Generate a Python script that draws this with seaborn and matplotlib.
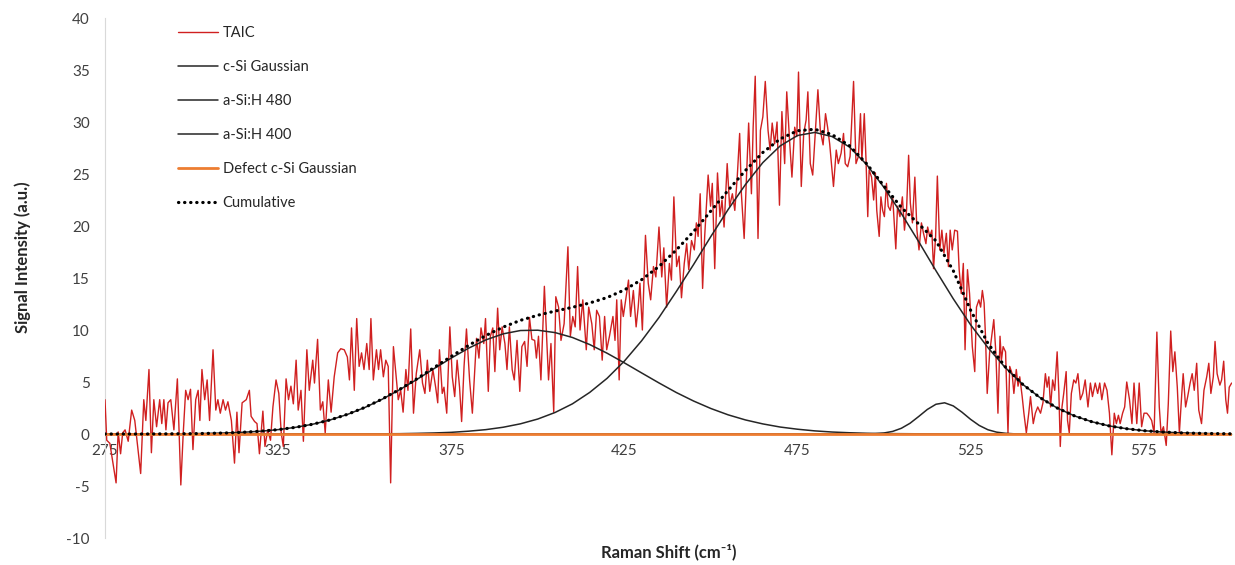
import numpy as np
import pandas as pd
import matplotlib.pyplot as plt
import seaborn as sns

sns.set_style('white')
plt.rcParams['font.family'] = ['Lato', 'DejaVu Sans']
plt.rcParams['axes.unicode_minus'] = False

taic_x = [
    275.0, 275.5, 276.4, 278.2, 278.8, 279.5, 280.1, 280.8, 281.7, 282.7, 283.6, 285.3, 286.2, 286.8,
    287.7, 288.4, 289.1, 289.9, 290.8, 291.4, 292.0, 292.6, 293.2, 294.0, 294.9, 295.9, 296.9, 297.6,
    298.3, 299.0, 299.7, 300.4, 301.2, 301.9, 302.4, 303.0, 303.8, 304.5, 305.2, 306.2, 307.0, 307.6,
    308.3, 309.1, 309.8, 310.5, 311.5, 312.4, 313.1, 313.7, 314.6, 315.8, 316.7,
    317.2, 318.2, 318.9, 319.6, 320.6, 321.2, 322.0, 322.8, 323.5, 324.4, 325.2, 325.9, 326.5, 327.3,
    328.0, 328.7, 329.4, 330.2, 330.8, 331.6, 332.3, 333.3, 334.0, 335.0, 335.5, 336.4, 337.2, 337.9,
    338.6, 339.5, 340.3, 341.2, 342.2, 343.1, 344.1, 345.0, 345.6, 346.2, 347.0, 347.7, 348.4, 349.1,
    349.8, 350.6, 351.3, 351.8, 352.5, 353.4, 354.0, 354.6, 355.4, 356.1, 356.8, 357.5, 358.3,
    359.7, 360.4, 361.1, 361.9, 362.5, 363.3, 364.1, 364.9, 365.9, 366.7, 367.4, 368.1, 368.8, 369.7,
    370.5, 371.1, 371.6, 372.4, 372.9, 373.7, 374.6, 375.3, 376.0, 376.7, 377.4, 378.0, 378.7, 379.4,
    380.3, 381.1, 381.8, 382.3, 383.0, 383.6, 384.4, 384.9, 385.7, 386.3, 387.0, 387.6, 388.4, 389.0,
    389.7, 390.5, 391.1, 391.8, 392.6, 393.2, 394.0, 394.8, 395.4, 396.2, 396.9, 397.6, 398.3, 399.1,
    399.6,
    400.2, 400.9, 401.9, 402.7, 403.1, 403.8, 404.6, 405.2, 406.0, 406.7, 407.6, 408.7, 409.4, 410.1,
    410.8, 411.5, 412.2, 413.0, 414.0, 414.7, 415.6, 416.3, 417.0, 417.8, 418.6, 419.3, 419.9, 420.7,
    421.7, 422.3, 422.8, 423.5, 424.1, 424.7, 425.5, 426.2, 426.8, 427.6, 428.4, 429.0, 429.5, 430.2,
    431.1, 431.9, 432.6, 433.4, 434.1, 435.0, 435.8, 436.4, 437.2, 438.0, 438.6, 439.3, 440.1, 440.8,
    441.5,
    442.3, 443.0, 443.6, 444.4, 445.2, 445.8, 446.3, 446.9, 447.6, 448.2, 449.2, 449.9, 450.4, 451.1,
    451.9, 452.6, 453.2, 453.8, 454.7, 455.4, 456.2, 456.9, 457.6, 458.3, 458.8, 459.6, 460.2, 460.9,
    461.7, 462.2, 462.8, 463.6, 464.3, 465.0, 465.7, 466.5, 467.1, 467.7, 468.4, 469.1, 469.8, 470.5,
    471.3, 471.9, 472.7, 473.4, 474.2, 474.8, 475.3, 476.1, 476.8, 477.5, 478.0, 478.7, 479.4, 480.2,
    480.9, 481.6, 482.4, 483.1, 483.7,
    484.3, 485.4, 486.2, 486.8, 487.6, 488.3, 488.8, 489.5, 490.2, 491.2, 491.9, 492.6, 493.2, 493.6,
    494.3, 494.8, 495.3, 495.7, 496.4, 497.0, 497.5, 497.9, 498.6, 499.1, 499.6, 500.1, 500.7, 501.2,
    501.8, 502.5, 502.9, 503.4, 503.9, 504.6, 505.3, 505.9, 506.5, 507.1, 507.6, 508.2, 508.9, 509.5,
    510.1, 510.8, 511.4, 512.1, 512.6, 513.2, 513.8, 514.3, 514.9, 515.4, 516.1, 516.7, 517.3, 518.0,
    518.6, 519.1, 519.7, 520.4, 521.2, 521.7, 522.3, 522.9, 523.4, 524.1, 524.7,
    525.5, 526.2, 526.7, 527.4, 527.9, 528.4, 528.9, 529.3, 529.8, 530.5, 531.1, 531.7, 532.3, 532.9,
    533.5, 533.9, 534.4, 535.1, 535.8, 536.3, 537.0, 537.5, 538.2, 538.7, 539.2, 539.9, 540.4, 541.1,
    541.8, 542.3, 543.1, 543.7, 544.4, 545.2, 545.9, 546.6, 547.1, 547.6, 548.1, 548.7, 549.3, 550.0,
    550.5, 550.9, 551.4, 551.9, 552.6, 553.0, 553.5, 554.1, 554.8, 555.4, 556.0, 556.7, 557.4, 558.1,
    558.9, 559.6, 560.2, 561.0, 561.7, 562.3, 562.9, 563.7, 564.4, 565.1, 565.8, 566.5,
    567.1, 567.7, 568.2, 568.9, 569.5, 570.1, 570.9, 571.6, 572.2, 573.0, 573.7, 574.4, 575.1, 575.9,
    576.6, 577.3, 578.0, 578.8, 579.5, 580.0, 580.7, 581.5, 582.1, 582.8, 583.4, 584.0, 584.7, 585.3,
    586.0, 586.4, 587.1, 587.7, 588.4, 589.0, 589.6, 590.3, 590.9, 591.7, 592.4, 593.2, 593.8, 594.4,
    595.1, 595.6, 596.2, 597.0, 597.5, 598.1, 598.7, 599.2, 599.7, 600.4,
]
taic_y = [
    3.3, -0.6, -0.9, -4.7, 0.2, -1.9, 0.1, 0.4, -0.7, 2.3, 1.3, -3.8, 3.3, 1.3,
    6.2, -1.8, 3.3, 0.7, 3.3, 1.0, 3.3, 0.4, 3.0, 3.3, 0.4, 5.3, -4.9, 0.1,
    4.2, 3.3, 4.3, -1.5, 3.3, 4.2, 1.3, 6.2, 3.3, 5.2, 1.3, 8.1, 2.3, 3.3,
    2.0, 3.3, 2.3, 3.1, 1.3, -2.8, 2.1, -1.8, 3.0, 3.3, 4.2,
    1.7, 1.2, 1.0, -1.9, 2.2, -1.2, 0.4, -0.6, 2.6, 5.2, 3.9, 0.1, -1.2, 5.3,
    3.3, 4.6, 2.9, 7.1, 2.3, 4.2, -0.7, 8.1, 4.2, 7.1, 4.9, 9.1, 2.3, 3.1,
    0.1, 5.2, 2.1, 5.5, 7.8, 8.2, 8.1, 7.4, 5.2, 10.2, 4.2, 11.1, 6.5, 7.8,
    6.2, 8.7, 6.2, 11.1, 5.2, 8.1, 6.2, 8.1, 5.5, 7.1, 6.5, -4.7, 8.4,
    3.3, 4.2, 2.1, 6.2, 4.2, 10.1, 2.0, 5.8, 8.1, 4.9, 3.9, 7.1, 4.1, 6.2,
    4.5, 3.0, 8.1, 3.9, 4.5, 2.0, 10.3, 5.5, 3.6, 7.1, 4.5, 1.2, 6.5, 10.1,
    5.2, 2.0, 6.2, 9.2, 7.3, 10.2, 8.7, 11.1, 4.1, 9.4, 10.2, 6.0, 12.1, 8.1,
    10.3, 8.7, 6.2, 10.3, 6.2, 5.2, 9.0, 4.1, 8.4, 8.9, 6.5, 11.2, 9.1, 9.0,
    7.3,
    9.4, 5.2, 14.2, 8.1, 5.2, 8.7, 2.1, 13.2, 12.2, 9.0, 10.6, 18.0, 9.4, 11.3,
    10.3, 16.1, 10.0, 12.9, 8.1, 12.2, 10.6, 8.1, 11.9, 11.3, 7.1, 11.3, 8.1, 9.4,
    11.3, 9.0, 12.9, 5.2, 12.9, 11.3, 13.2, 14.8, 11.3, 13.8, 10.3, 12.2, 14.5, 10.0,
    19.1, 14.5, 12.9, 16.1, 15.1, 19.9, 15.1, 17.9, 12.2, 16.4, 14.8, 22.8, 16.1, 17.1,
    13.1,
    16.4, 18.3, 15.8, 18.6, 17.7, 20.3, 19.0, 23.1, 14.0, 19.0, 24.9, 21.9, 24.1, 15.9,
    25.1, 20.9, 22.5, 19.9, 26.0, 21.9, 23.1, 21.5, 24.7, 28.9, 23.1, 18.8, 24.1, 29.9,
    23.1, 29.5, 34.4, 18.8, 29.2, 30.5, 33.9, 29.2, 27.3, 29.9, 27.9, 30.0, 22.0, 31.0,
    26.0, 32.9, 28.3, 24.7, 29.5, 28.6, 34.8, 23.8, 28.9, 30.2, 32.9, 26.0, 24.9, 29.2,
    33.1, 29.2, 27.8, 30.8, 29.5,
    27.9, 23.8, 27.3, 26.0, 27.0, 28.9, 26.0, 25.7, 26.7, 33.9, 26.0, 26.7, 30.8, 26.3,
    30.8, 26.3, 20.9, 25.4, 24.7, 22.5, 25.1, 21.5, 19.0, 22.8, 21.5, 20.9, 24.1, 21.9,
    21.5, 22.8, 20.6, 17.8, 21.9, 20.9, 22.8, 19.6, 21.5, 26.8, 22.2, 20.3, 24.7, 19.6,
    17.7, 20.3, 19.3, 18.3, 19.9, 19.0, 19.6, 15.9, 19.0, 24.8, 17.7, 19.6, 17.4, 19.3,
    16.1, 19.6, 17.7, 19.6, 19.5, 15.8, 13.5, 16.4, 8.1, 15.8, 13.5,
    8.4, 6.0, 12.2, 12.9, 12.2, 13.8, 12.6, 9.4, 3.9, 7.8, 9.4, 11.0, 7.8, 2.0,
    9.4, 7.1, 8.4, 7.9, 0.1, 6.5, 5.8, 3.9, 6.2, 4.6, 5.5, 3.6, 2.0, 0.1,
    2.0, 3.6, 1.0, 2.0, 2.6, 2.0, 3.0, 5.8, 4.5, 5.5, 2.6, 5.2, 4.2, 7.9,
    3.9, -1.2, 2.6, 3.9, 6.0, 1.3, 0.1, 3.9, 5.2, 4.9, 5.8, 3.3, 3.9, 5.2,
    2.6, 4.9, 3.6, 4.9, 3.9, 4.9, 3.3, 4.9, 4.2, 2.0, -2.0, 2.0,
    1.0, 1.8, 1.0, 2.0, 2.6, 5.0, 3.3, 1.0, 4.9, 1.0, 4.9, 0.7, 2.0, 2.0,
    1.7, 1.3, 0.1, 9.8, 2.6, 0.1, 0.7, -1.1, 2.9, 9.9, 6.0, 7.9, 4.5, 0.1,
    3.9, 5.8, 2.6, 3.6, 4.9, 5.8, 4.2, 6.8, 2.3, 1.0, 4.2, 5.5, 6.8, 3.9,
    5.5, 8.9, 5.8, 4.7, 5.2, 7.0, 3.3, 2.0, 4.5, 4.9,
]

# fitted components, read every 5 cm-1
fit_x = [275, 280, 285, 290, 295, 300, 305, 310, 315, 320, 325, 330, 335, 340, 345, 350, 355, 360,
         365, 370, 375, 380, 385, 390, 395, 400, 405, 410, 415, 420, 425, 430, 435, 440, 445, 450,
         455, 460, 465, 470, 475, 480, 485, 490, 495, 500, 505, 510, 515, 520, 525, 530, 535, 540,
         545, 550, 555, 560, 565, 570, 575, 580, 585, 590, 595, 600]
asi_400 = [0.0, 0.0, 0.0, 0.01, 0.02, 0.03, 0.06, 0.10, 0.17, 0.27, 0.42, 0.64, 0.94, 1.35, 1.88,
           2.54, 3.33, 4.24, 5.23, 6.28, 7.30, 8.25, 9.05, 9.63, 9.95, 9.98, 9.75, 9.28, 8.60, 7.77,
           6.84, 5.87, 4.91, 3.99, 3.17, 2.45, 1.84, 1.35, 0.97, 0.67, 0.46, 0.30, 0.19, 0.12, 0.07,
           0.04, 0.03, 0.02, 0.01, 0.0, 0.0, 0.0, 0.0, 0.0, 0.0, 0.0, 0.0, 0.0, 0.0, 0.0, 0.0, 0.0,
           0.0, 0.0, 0.0, 0.0]
asi_480 = [0.0, 0.0, 0.0, 0.0, 0.0, 0.0, 0.0, 0.0, 0.0, 0.0, 0.0, 0.0, 0.0, 0.0, 0.0, 0.01, 0.02,
           0.03, 0.06, 0.10, 0.16, 0.27, 0.42, 0.65, 0.98, 1.44, 2.07, 2.90, 4.00, 5.35, 7.01, 8.97,
           11.2, 13.7, 16.3, 19.0, 21.6, 24.0, 26.1, 27.7, 28.7, 29.0, 28.6, 27.6, 25.9, 23.7, 21.2,
           18.5, 15.7, 13.0, 10.5, 8.31, 6.39, 4.79, 3.51, 2.50, 1.74, 1.18, 0.78, 0.51, 0.32, 0.20,
           0.12, 0.07, 0.04, 0.02]
cumulative = [0.0, 0.0, 0.0, 0.01, 0.02, 0.03, 0.06, 0.10, 0.17, 0.27, 0.42, 0.64, 0.94, 1.35, 1.89,
              2.55, 3.35, 4.27, 5.29, 6.38, 7.46, 8.52, 9.47, 10.28, 10.93, 11.42, 11.82, 12.18,
              12.60, 13.12, 13.85, 14.84, 16.11, 17.69, 19.47, 21.45, 23.44, 25.35, 27.07, 28.37,
              29.16, 29.30, 28.79, 27.72, 25.98, 23.84, 21.78, 20.20, 18.57, 15.70, 11.91, 8.72,
              6.46, 4.79, 3.51, 2.50, 1.74, 1.18, 0.78, 0.51, 0.32, 0.20, 0.12, 0.07, 0.04, 0.02]

# narrow c-Si peak, read every 2.5 cm-1 around its centre
csi_x = [275, 495, 497.5, 500, 502.5, 505, 507.5, 510, 512.5, 515, 517.5, 520, 522.5, 525, 527.5,
         530, 532.5, 535, 537.5, 540, 600]
csi_y = [0.0, 0.01, 0.03, 0.10, 0.25, 0.55, 1.03, 1.68, 2.36, 2.86, 3.0, 2.70, 2.10, 1.41, 0.82,
         0.41, 0.18, 0.07, 0.02, 0.0, 0.0]

defect_x = [275, 600.5]
defect_y = [0.0, 0.0]

fig = plt.figure(figsize=(12.35, 5.65), dpi=100)
ax = fig.add_axes([105 / 1235, 1 - 538 / 565, 1127 / 1235, 520 / 565])

sns.lineplot(x=taic_x, y=taic_y, ax=ax, color='#D02020', lw=1.0, label='TAIC',
             sort=False, estimator=None, zorder=3)
sns.lineplot(x=csi_x, y=csi_y, ax=ax, color='#262626', lw=1.1, label='c-Si Gaussian',
             sort=False, estimator=None, zorder=4)
sns.lineplot(x=fit_x, y=asi_480, ax=ax, color='#262626', lw=1.1, label='a-Si:H 480',
             sort=False, estimator=None, zorder=4)
sns.lineplot(x=fit_x, y=asi_400, ax=ax, color='#262626', lw=1.1, label='a-Si:H 400',
             sort=False, estimator=None, zorder=4)
sns.lineplot(x=defect_x, y=defect_y, ax=ax, color='#ED7D31', lw=2.0, label='Defect c-Si Gaussian',
             sort=False, estimator=None, zorder=5)
sns.lineplot(x=fit_x, y=cumulative, ax=ax, color='black', lw=2.3, label='Cumulative',
             sort=False, estimator=None, linestyle=(0, (0.1, 1.8)), dash_capstyle='round',
             zorder=6)

ax.set_xlim(275, 600.5)
ax.set_ylim(-10, 40)
ax.set_xticks([275, 325, 375, 425, 475, 525, 575])
ax.set_yticks(np.arange(-10, 41, 5))

for s in ['top', 'right']:
    ax.spines[s].set_visible(False)
ax.spines['left'].set_color('#D9D9D9')
ax.spines['bottom'].set_position(('data', 0))
ax.spines['bottom'].set_color('#D9D9D9')
ax.spines['bottom'].set_zorder(1)
ax.tick_params(axis='y', length=0, pad=11, labelsize=11, labelcolor='#404040')
ax.tick_params(axis='x', length=0, pad=7, labelsize=11, labelcolor='#404040')

ax.set_xlabel('Raman Shift (cm⁻¹)', fontsize=12, fontweight='bold', color='#262626')
ax.xaxis.set_label_coords(0.5, -0.01)
ax.set_ylabel('Signal Intensity (a.u.)', fontsize=12, fontweight='bold', color='#262626')
ax.yaxis.set_label_coords(-0.066, 0.54)

ax.legend(loc='upper left', bbox_to_anchor=(0.065, 0.985), frameon=False, fontsize=10.5,
          handlelength=2.7, handletextpad=0.35, labelspacing=1.38, borderpad=0, borderaxespad=0)

fig.savefig('out.png', dpi=100)
